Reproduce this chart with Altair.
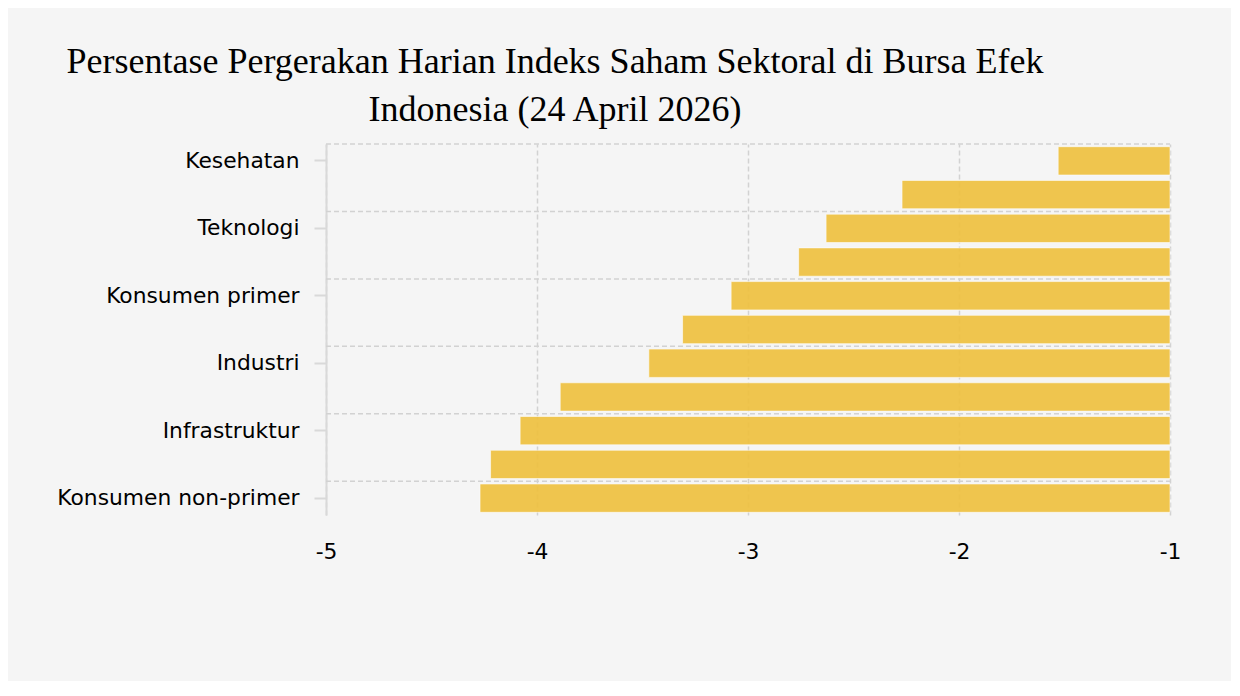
import altair as alt
import pandas as pd

categories = ["Kesehatan", "Energi", "Teknologi", "Keuangan", "Konsumen primer",
              "Barang baku", "Industri", "Properti & real estat", "Infrastruktur",
              "Transportasi & logistik", "Konsumen non-primer"]
values = [-1.53, -2.27, -2.63, -2.76, -3.08, -3.31, -3.47, -3.89, -4.08, -4.22, -4.27]
shown_labels = ["Kesehatan", "Teknologi", "Konsumen primer", "Industri",
                "Infrastruktur", "Konsumen non-primer"]
x_ticks = [-5, -4, -3, -2, -1]
title_lines = ["Persentase Pergerakan Harian Indeks Saham Sektoral di Bursa Efek",
               "Indonesia (24 April 2026)"]

df = pd.DataFrame({"sektor": categories, "persen": values, "dasar": [-1] * len(values)})
grid_df = pd.DataFrame({"sektor": shown_labels})

W, H = 844, 371
GRID = "#d2d2d2"
AXIS = "#d9d9d9"

rules = alt.Chart(grid_df).mark_rule(color=GRID, strokeWidth=1.5, strokeDash=[5, 3]).encode(
    y=alt.Y("sektor:N", sort=categories, bandPosition=0,
            scale=alt.Scale(type="band", domain=categories, paddingInner=0, paddingOuter=0),
            axis=None),
    x=alt.value(0), x2=alt.value(W),
)

bars = alt.Chart(df).mark_bar(color="#EFC140", opacity=0.92, stroke="#ffffff",
                              strokeWidth=1, strokeOpacity=0.6).encode(
    y=alt.Y("sektor:N", sort=categories,
            scale=alt.Scale(paddingInner=0.16, paddingOuter=0.08),
            axis=alt.Axis(title=None, values=shown_labels, grid=False,
                          domainColor=AXIS, domainWidth=2, tickColor=AXIS, tickWidth=2,
                          tickSize=12, labelPadding=15, labelFont="DejaVu Sans",
                          labelFontSize=21.8, labelColor="#000", labelLimit=400,
                          minExtent=300, maxExtent=300)),
    x=alt.X("persen:Q", scale=alt.Scale(domain=[-5, -1], nice=False, zero=False),
            axis=alt.Axis(title=None, values=x_ticks, labelExpr="'' + datum.value",
                          grid=True, gridDash=[5, 3], gridColor=GRID, gridWidth=1.5,
                          domain=False, ticks=False, labelPadding=26, labelFlush=False,
                          labelFont="DejaVu Sans", labelFontSize=21.8, labelColor="#000")),
    x2="dasar:Q",
)

chart = alt.layer(rules, bars).resolve_scale(y="independent").properties(
    width=W, height=H,
    title=alt.TitleParams(text=title_lines, font="Liberation Serif", fontSize=36,
                          fontWeight="normal", lineHeight=48, color="#000",
                          anchor="middle", dx=-193, offset=14),
    padding={"left": 18, "top": 36, "right": 50, "bottom": 118},
    background="#f5f5f5",
).configure_view(stroke=None)

chart.save("out.html", embed_options={"renderer": "svg", "actions": False})
